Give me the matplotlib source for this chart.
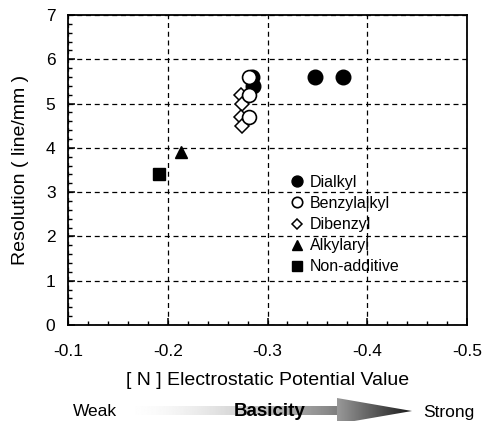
import numpy as np
import matplotlib
matplotlib.use('Agg')
import matplotlib.pyplot as plt
from matplotlib.patches import Polygon
from matplotlib.ticker import MultipleLocator

plt.rcParams['font.family'] = ['Liberation Sans', 'DejaVu Sans']

# data
dialkyl_x = [-0.284, -0.285, -0.348, -0.376]
dialkyl_y = [5.6, 5.4, 5.6, 5.6]
benzyl_x = [-0.281, -0.281, -0.281]
benzyl_y = [5.6, 5.2, 4.7]
dibenzyl_x = [-0.273, -0.274, -0.273, -0.274]
dibenzyl_y = [5.2, 5.0, 4.7, 4.5]
alkylaryl_x = [-0.213]
alkylaryl_y = [3.9]
nonadd_x = [-0.191]
nonadd_y = [3.4]

x_ticks = [-0.1, -0.2, -0.3, -0.4, -0.5]
y_ticks = [0, 1, 2, 3, 4, 5, 6, 7]

W, H = 483, 421
fig = plt.figure(figsize=(W / 100, H / 100), dpi=100)
fig.patch.set_facecolor('white')

ax = fig.add_axes([68 / W, 1 - 325 / H, (467 - 68) / W, (325 - 15) / H])

ax.plot(dialkyl_x, dialkyl_y, 'o', ms=10.5, mfc='black', mec='black', label='Dialkyl', zorder=3)
ax.plot(benzyl_x, benzyl_y, 'o', ms=10, mfc='white', mec='black', mew=1.2, label='Benzylalkyl', zorder=4)
ax.plot(dibenzyl_x, dibenzyl_y, 'D', ms=7, mfc='white', mec='black', mew=1.1, label='Dibenzyl', zorder=3)
ax.plot(alkylaryl_x, alkylaryl_y, '^', ms=9, mfc='black', mec='black', label='Alkylaryl', zorder=3)
ax.plot(nonadd_x, nonadd_y, 's', ms=9, mfc='black', mec='black', label='Non-additive', zorder=3)

ax.set_xlim(-0.1, -0.5)
ax.set_ylim(0, 7)
ax.set_xticks(x_ticks)
ax.set_xticklabels(['%.1f' % v for v in x_ticks])
ax.set_yticks(y_ticks)
ax.xaxis.set_minor_locator(MultipleLocator(0.02))
ax.yaxis.set_minor_locator(MultipleLocator(0.2))
ax.tick_params(which='major', direction='in', length=5, width=1.1, labelsize=12.5)
ax.tick_params(axis='x', which='major', pad=14)
ax.tick_params(axis='y', which='major', pad=9)
ax.tick_params(which='minor', direction='in', length=3, width=1.0)
for s in ax.spines.values():
    s.set_linewidth(1.3)

ax.grid(True, which='major', color='black', linestyle=(0, (4, 3)), linewidth=0.9)

ax.set_xlabel('[ N ] Electrostatic Potential Value', fontsize=14, labelpad=9)
ax.set_ylabel('Resolution ( line/mm )', fontsize=14, labelpad=12)

leg = ax.legend(loc='upper left', bbox_to_anchor=(283 / W, 1 - 167 / H), bbox_transform=fig.transFigure,
                frameon=False, fontsize=11.5, markerscale=0.75, handlelength=0.8,
                handletextpad=0.4, labelspacing=0.38, borderpad=0)

# basicity arrow under the axis, in pixel coordinates
ov = fig.add_axes([0, 0, 1, 1], facecolor='none')
ov.set_xlim(0, W)
ov.set_ylim(H, 0)
ov.axis('off')

t = np.linspace(0, 1, 300)
shaft = (1 - 0.5 * t ** 1.8).reshape(1, -1)
ov.imshow(shaft, cmap='gray', vmin=0, vmax=1, aspect='auto',
          extent=[120, 337, 415.5, 407], interpolation='bilinear')
head = np.linspace(0.6, 0.1, 300).reshape(1, -1)
im = ov.imshow(head, cmap='gray', vmin=0, vmax=1, aspect='auto',
               extent=[337, 412, 424, 398], interpolation='bilinear')
tri = Polygon([(337, 398), (412, 411), (337, 424)], closed=True, transform=ov.transData,
              facecolor='none', edgecolor='none')
ov.add_patch(tri)
im.set_clip_path(tri)
ov.set_xlim(0, W)
ov.set_ylim(H, 0)

ov.text(95, 412, 'Weak', fontsize=12.5, ha='center', va='center')
ov.text(270, 412, 'Basicity', fontsize=13.5, fontweight='bold', ha='center', va='center', zorder=5)
ov.text(449, 412, 'Strong', fontsize=12.5, ha='center', va='center')

fig.savefig('out.png', dpi=100)
